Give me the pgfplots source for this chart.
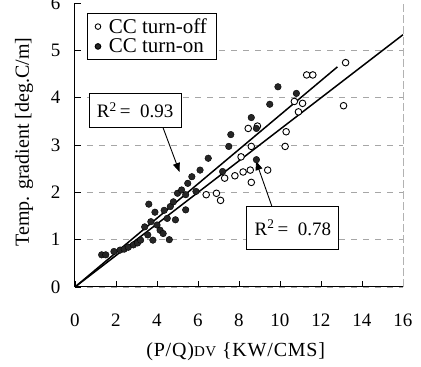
\documentclass[border=0pt]{standalone}
\usepackage{fontspec}
\setmainfont{Liberation Serif}
\usepackage{pgfplots}
\pgfplotsset{compat=1.18}
\usetikzlibrary{arrows.meta}

\pgfplotstableread{
x y
6.4 1.95
6.9 1.98
7.1 1.83
7.3 2.30
7.8 2.35
8.2 2.43
8.55 2.47
8.6 2.21
9.4 2.47
8.1 2.75
8.6 2.97
8.45 3.35
8.9 3.40
10.3 3.28
10.25 2.97
10.9 3.70
11.1 3.88
10.7 3.92
11.3 4.48
11.6 4.48
13.1 3.83
13.2 4.74
}\turnoff

\pgfplotstableread{
x y
1.3 0.68
1.5 0.68
1.9 0.75
2.2 0.78
2.4 0.80
2.6 0.84
2.85 0.89
3.05 0.93
3.2 0.99
3.4 1.27
3.55 1.10
3.6 1.75
3.7 1.38
3.8 0.99
3.9 1.58
4.0 1.31
4.15 1.20
4.3 1.13
4.35 1.62
4.5 1.45
4.6 1.00
4.65 1.70
4.8 1.80
4.9 1.42
5.0 1.98
5.2 2.05
5.4 1.63
5.4 1.95
5.5 2.19
5.7 2.33
5.9 2.02
6.1 2.47
6.5 2.72
7.2 2.44
7.5 2.97
7.6 3.22
8.6 3.58
8.85 3.35
8.85 2.69
9.5 3.86
9.9 4.23
10.8 4.09
}\turnon

\begin{document}
\begin{tikzpicture}[x=1pt,y=1pt]
\useasboundingbox (0,0) rectangle (421,367);
\begin{axis}[
  at={(75pt,80pt)}, anchor=south west,
  scale only axis, width=328pt, height=284pt,
  xmin=0, xmax=16, ymin=0, ymax=6,
  axis x line*=bottom, axis y line*=left,
  axis line style={black, line width=1pt},
  xtick={0,2,...,16}, ytick={0,...,5},
  extra y ticks={6}, extra y tick style={grid=none},
  tick align=inside, major tick length=6pt,
  tick style={black, line width=0.9pt},
  ymajorgrids,
  grid style={gray!70, line width=0.9pt, dash pattern=on 6pt off 6pt},
  /pgf/number format/assume math mode=true,
  tick label style={font=\fontsize{19}{21}\selectfont},
  xticklabel style={yshift=-23pt},
  yticklabel style={xshift=-11pt},
  xlabel={(P/Q){\fontsize{15}{16}\selectfont DV} \{KW/CMS]},
  ylabel={Temp. gradient [deg.C/m]},
  every axis x label/.style={at={(axis description cs:0.49,-0.229)}, anchor=center, font=\fontsize{20}{22}\selectfont\addfontfeatures{LetterSpace=4}},
  every axis y label/.style={at={(axis description cs:-0.155,0.51)}, rotate=90, anchor=center, font=\fontsize{20}{22}\selectfont},
  legend style={at={(axis cs:0.57,5.79)}, anchor=north west, draw=black, line width=1pt,
    font=\fontsize{21}{23}\selectfont, inner xsep=8pt, inner ysep=3pt, row sep=0pt,
    cells={anchor=west},
    /tikz/every odd column/.append style={column sep=6pt}},
  legend image code/.code={\draw[mark size=2.8pt,#1] plot coordinates {(0.35cm,0cm)};},
  legend cell align=left,
  clip=false,
]
\draw[gray!60, line width=0.8pt, dash pattern=on 8pt off 3pt] (axis cs:16,0) -- (axis cs:16,6);
\addplot[only marks, mark=*, mark size=3.3pt, mark options={fill=white, draw=black, line width=0.9pt}] table {\turnoff};
\addlegendentry{CC turn-off}
\addplot[only marks, mark=*, mark size=3.3pt, mark options={fill=black!85, draw=black}] table {\turnon};
\addlegendentry{CC turn-on}
\addplot[black, line width=1.5pt, forget plot] coordinates {(0,0) (12.8,4.65)};
\addplot[black, line width=1.5pt, forget plot] coordinates {(0,0) (16,5.33)};
\node[draw, line width=1pt, minimum width=92pt, minimum height=34pt, fill=white, font=\fontsize{19}{21}\selectfont] at (axis cs:2.93,3.73) {R\textsuperscript{2}\,=\ \ 0.93};
\draw[black, line width=0.9pt, -{Triangle[length=9pt,width=7pt]}] (axis cs:4.3,3.36) -- (axis cs:5.1,2.43);
\node[draw, line width=1pt, minimum width=92pt, minimum height=43pt, fill=white, font=\fontsize{19}{21}\selectfont] at (axis cs:10.63,1.25) {R\textsuperscript{2}\,=\ \ 0.78};
\draw[black, line width=0.9pt, -{Triangle[length=9pt,width=7pt]}] (axis cs:9.6,1.71) -- (axis cs:8.83,2.66);
\end{axis}
\end{tikzpicture}
\end{document}
